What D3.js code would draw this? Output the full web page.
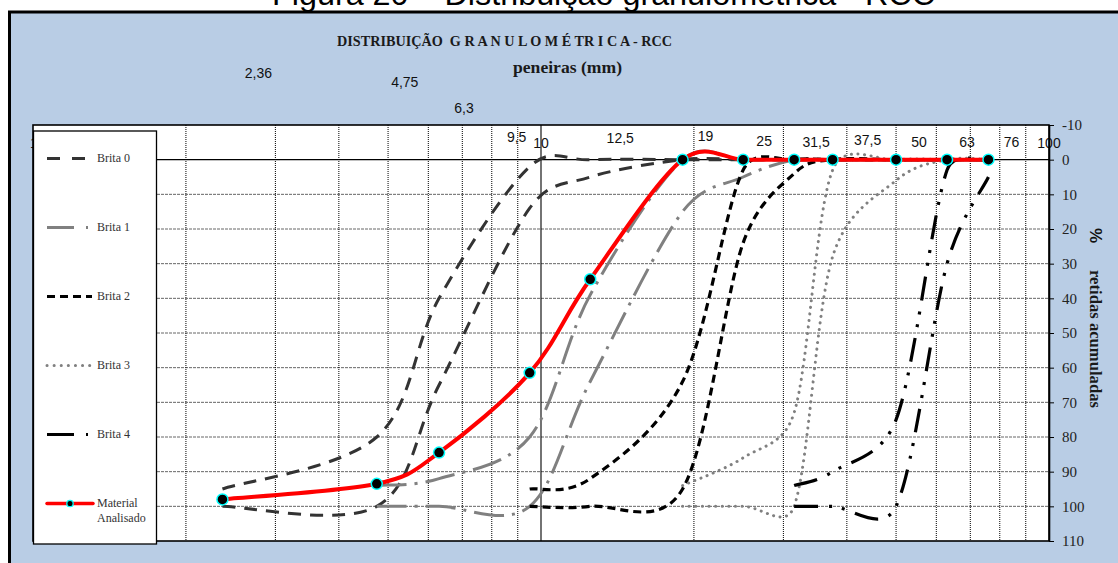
<!DOCTYPE html>
<html>
<head>
<meta charset="utf-8">
<script src="https://cdn.jsdelivr.net/npm/d3@7"></script>
<style>
  html, body { margin: 0; padding: 0; background: #fff; }
  svg { display: block; }
  text { white-space: pre; }
</style>
</head>
<body>
<svg id="chart" width="1118" height="563"></svg>
<script>
// ---------------- DATA ----------------
const sieves = [2.36, 4.75, 6.3, 9.5, 12.5, 19, 25, 31.5, 37.5, 50, 63, 76];

const brita0Sup = [95, 80, 40, 2, 0, 0, 0, 0, 0, 0, 0, 0];
const brita0Inf = [100, 100, 65, 14, 5, 0, 0, 0, 0, 0, 0, 0];
const brita1Sup = [null, 94, 92, 80, 39, 0, 0, 0, 0, 0, 0, 0];
const brita1Inf = [null, 100, 100, 100, 64, 15, 5, 0, 0, 0, 0, 0];
const brita2Sup = [null, null, null, 95, 92, 64, 3, 0, 0, 0, 0, 0];
const brita2Inf = [null, null, null, 100, 100, 95, 24, 4, 0, 0, 0, 0];
const brita3Sup = [null, null, null, null, null, 94, 86, 73, 3, 0, 0, 0];
const brita3Inf = [null, null, null, null, null, 100, 100, 100, 28, 6, 0, 0];
const brita4Sup = [null, null, null, null, null, null, null, 94, 90, 75, 3, 0];
const brita4Inf = [null, null, null, null, null, null, null, 100, 100, 100, 30, 5];
const material  = [98, 93.5, 84.5, 61.5, 34.5, 0, 0, 0, 0, 0, 0, 0];

const sieveLabelValues = [1, 2.36, 4.75, 6.3, 9.5, 10, 12.5, 19, 25, 31.5, 37.5, 50, 63, 76, 100];
const sieveLabelTexts  = ["1", "2,36", "4,75", "6,3", "9,5", "10", "12,5", "19", "25", "31,5", "37,5", "50", "63", "76", "100"];

const yTicks = [-10, 0, 10, 20, 30, 40, 50, 60, 70, 80, 90, 100, 110];
const xGridMinor = [2, 3, 4, 5, 6, 7, 8, 9, 20, 30, 40, 50, 60, 70, 80, 90];
const xGridMajor = [10];

const legendNames = ["Brita 0", "Brita 1", "Brita 2", "Brita 3", "Brita 4", "Material\nAnalisado"];

const titleText = "Figura 20 \u2013 Distribuição granulométrica - RCC";
const chartTitleText = "DISTRIBUIÇÃO  G R A N U L O M É TR I C A - RCC";
const xTitleText = "peneiras (mm)";
const yTitlePct = "%";
const yTitleText = "retidas acumuladas";

// ---------------- LAYOUT / STYLE ----------------
const plot = { x0: 33, x1: 1049, y0: 125, y1: 541 };
// offsets of the free-floating sieve labels (dx from sieve position, baseline y)
const sieveLabelLayout = [
  { dx: 1, y: 148 }, { dx: 36, y: 78 }, { dx: 28, y: 87 }, { dx: 25, y: 113 },
  { dx: -13, y: 142 }, { dx: 0, y: 148 }, { dx: 30, y: 143 }, { dx: 23, y: 141 },
  { dx: 21, y: 146 }, { dx: 22, y: 147 }, { dx: 35, y: 145 }, { dx: 23, y: 147 },
  { dx: 20, y: 147 }, { dx: 23, y: 147 }, { dx: 0, y: 148 }
];

const styles = [
  { color: "#333333", width: 3,   dash: "13,9",              cap: "butt",  legDash: "13,12" },
  { color: "#808080", width: 3,   dash: "30,8,3,8",          cap: "butt",  legDash: "27,12,2,12" },
  { color: "#000000", width: 3.2, dash: "8,5",               cap: "butt",  legDash: "8,5" },
  { color: "#808080", width: 3,   dash: "0.1,6.5",           cap: "round", legDash: "0.1,7" },
  { color: "#000000", width: 3.2, dash: "24,11,3,10,3,11",   cap: "butt",  legDash: "27,12,2,12" }
];

const serif = "'Liberation Serif', 'Times New Roman', serif";
const sans = "'Liberation Sans', Arial, sans-serif";

// ---------------- SCALES ----------------
const x = d3.scaleLog().domain([1, 100]).range([plot.x0, plot.x1]);
const y = d3.scaleLinear().domain([-10, 110]).range([plot.y0, plot.y1]);

// Excel-like smoothed line (cubic Bezier, tangent (P[i+1]-P[i-1])/6 clipped to half segment)
function ExcelSmooth(context) { this._context = context; }
ExcelSmooth.prototype = {
  areaStart() {}, areaEnd() {},
  lineStart() { this._pts = []; },
  point(px, py) { this._pts.push([+px, +py]); },
  lineEnd() {
    const p = this._pts, c = this._context, n = p.length;
    if (!n) return;
    c.moveTo(p[0][0], p[0][1]);
    const dist = (a, b) => Math.hypot(a[0] - b[0], a[1] - b[1]);
    for (let i = 0; i < n - 1; i++) {
      const p0 = p[Math.max(i - 1, 0)], p1 = p[i], p2 = p[i + 1], p3 = p[Math.min(i + 2, n - 1)];
      const d12 = dist(p1, p2), d02 = dist(p0, p2), d13 = dist(p1, p3);
      let f1 = 1 / 6, f2 = 1 / 6;
      if (d02 * f1 > d12 / 2) f1 = d12 / 2 / d02;
      if (d13 * f2 > d12 / 2) f2 = d12 / 2 / d13;
      c.bezierCurveTo(
        p1[0] + (p2[0] - p0[0]) * f1, p1[1] + (p2[1] - p0[1]) * f1,
        p2[0] - (p3[0] - p1[0]) * f2, p2[1] - (p3[1] - p1[1]) * f2,
        p2[0], p2[1]);
    }
  }
};
const curveExcel = ctx => new ExcelSmooth(ctx);

const line = d3.line()
  .defined(d => d[1] != null)
  .x(d => x(d[0]))
  .y(d => y(d[1]))
  .curve(curveExcel);

const pairs = vals => sieves.map((s, i) => [s, vals[i]]);

// ---------------- DRAW ----------------
const svg = d3.select("#chart");

// outer chart area
svg.append("rect")
  .attr("x", 9.5).attr("y", 12).attr("width", 1200).attr("height", 600)
  .attr("fill", "#B9CDE5").attr("stroke", "#000").attr("stroke-width", 3);

// figure caption (partly cut at top, as in the original)
svg.append("text")
  .attr("x", 272).attr("y", 5)
  .attr("font-family", sans).attr("font-size", 32).attr("fill", "#000")
  .attr("textLength", 663).attr("lengthAdjust", "spacingAndGlyphs")
  .text(titleText);

// chart title
svg.append("text")
  .attr("x", 337).attr("y", 46)
  .attr("font-family", serif).attr("font-weight", "bold").attr("font-size", 14).attr("fill", "#1a1a1a")
  .attr("textLength", 335).attr("lengthAdjust", "spacingAndGlyphs")
  .text(chartTitleText);

svg.append("text")
  .attr("x", 513).attr("y", 73)
  .attr("font-family", serif).attr("font-weight", "bold").attr("font-size", 16).attr("fill", "#1a1a1a")
  .attr("textLength", 109).attr("lengthAdjust", "spacingAndGlyphs")
  .text(xTitleText);

// plot area
svg.append("rect")
  .attr("x", plot.x0).attr("y", plot.y0)
  .attr("width", plot.x1 - plot.x0).attr("height", plot.y1 - plot.y0)
  .attr("fill", "#fff");

// sieve labels (drawn before gridlines, so lines cross them as in original)
svg.append("g").selectAll("text")
  .data(sieveLabelTexts)
  .join("text")
  .attr("x", (d, i) => x(sieveLabelValues[i]) + sieveLabelLayout[i].dx)
  .attr("y", (d, i) => sieveLabelLayout[i].y)
  .attr("text-anchor", "middle")
  .attr("font-family", sans).attr("font-size", 14).attr("fill", "#111")
  .text(d => d);

// horizontal gridlines
const gridY = yTicks.filter(v => v > -10 && v < 110);
svg.append("g").selectAll("line")
  .data(gridY)
  .join("line")
  .attr("x1", plot.x0).attr("x2", plot.x1)
  .attr("y1", d => y(d)).attr("y2", d => y(d))
  .attr("stroke", d => d === 0 ? "#000" : "#666")
  .attr("stroke-width", d => d === 0 ? 1.2 : 1)
  .attr("stroke-dasharray", d => d === 0 ? null : "3,1");

// vertical gridlines
svg.append("g").selectAll("line")
  .data(xGridMinor)
  .join("line")
  .attr("x1", d => x(d)).attr("x2", d => x(d))
  .attr("y1", plot.y0).attr("y2", plot.y1)
  .attr("stroke", "#000").attr("stroke-width", 1)
  .attr("stroke-dasharray", "1,1");
svg.append("g").selectAll("line")
  .data(xGridMajor)
  .join("line")
  .attr("x1", d => x(d)).attr("x2", d => x(d))
  .attr("y1", plot.y0).attr("y2", plot.y1)
  .attr("stroke", "#000").attr("stroke-width", 1.1);

// series
const seriesData = [
  [brita0Sup, brita0Inf],
  [brita1Sup, brita1Inf],
  [brita2Sup, brita2Inf],
  [brita3Sup, brita3Inf],
  [brita4Sup, brita4Inf]
];
const gSeries = svg.append("g").attr("fill", "none");
seriesData.forEach((pair, k) => {
  const st = styles[k];
  pair.forEach(vals => {
    gSeries.append("path")
      .attr("d", line(pairs(vals)))
      .attr("stroke", st.color)
      .attr("stroke-width", st.width)
      .attr("stroke-dasharray", st.dash)
      .attr("stroke-linecap", st.cap);
  });
});

// material analysed
svg.append("path")
  .attr("d", line(pairs(material)))
  .attr("fill", "none").attr("stroke", "#FF0000").attr("stroke-width", 4);
svg.append("g").selectAll("circle")
  .data(pairs(material))
  .join("circle")
  .attr("cx", d => x(d[0])).attr("cy", d => y(d[1]))
  .attr("r", 5.5)
  .attr("fill", "#000").attr("stroke", "#00FFFF").attr("stroke-width", 1.5);

// plot border
svg.append("rect")
  .attr("x", plot.x0).attr("y", plot.y0)
  .attr("width", plot.x1 - plot.x0).attr("height", plot.y1 - plot.y0)
  .attr("fill", "none").attr("stroke", "#000").attr("stroke-width", 1.6);

// right axis
const yAxis = d3.axisRight(y).tickValues(yTicks).tickSize(5).tickSizeOuter(0).tickPadding(8)
  .tickFormat(d => String(d));
const gAxis = svg.append("g").attr("transform", `translate(${plot.x1},0)`).call(yAxis);
gAxis.select(".domain").attr("stroke", "#000").attr("stroke-width", 1.6);
gAxis.selectAll(".tick line").attr("stroke", "#000").attr("stroke-width", 1);
gAxis.selectAll(".tick text")
  .attr("font-family", serif).attr("font-size", 15).attr("fill", "#222");

// axis title
svg.append("text")
  .attr("transform", "translate(1090,235.5) rotate(90)")
  .attr("text-anchor", "middle")
  .attr("font-family", sans).attr("font-weight", "bold").attr("font-size", 17).attr("fill", "#111")
  .text(yTitlePct);
svg.append("text")
  .attr("transform", "translate(1089.5,339) rotate(90)")
  .attr("text-anchor", "middle")
  .attr("font-family", serif).attr("font-weight", "bold").attr("font-size", 16).attr("fill", "#1a1a1a")
  .attr("textLength", 138).attr("lengthAdjust", "spacingAndGlyphs")
  .text(yTitleText);

// legend
const leg = { x: 33.5, y: 131, w: 123, h: 413, step: 69, first: 158.5, lx0: 47, lx1: 92, tx: 97 };
const gLeg = svg.append("g");
gLeg.append("rect")
  .attr("x", leg.x).attr("y", leg.y).attr("width", leg.w).attr("height", leg.h)
  .attr("fill", "#fff").attr("stroke", "#000").attr("stroke-width", 1.3);

legendNames.forEach((name, i) => {
  const ly = leg.first + i * leg.step;
  if (i < 5) {
    const st = styles[i];
    gLeg.append("line")
      .attr("x1", leg.lx0).attr("x2", leg.lx1).attr("y1", ly).attr("y2", ly)
      .attr("stroke", st.color).attr("stroke-width", st.width)
      .attr("stroke-dasharray", st.legDash).attr("stroke-linecap", st.cap);
  } else {
    gLeg.append("line")
      .attr("x1", leg.lx0).attr("x2", leg.lx1 + 1).attr("y1", ly).attr("y2", ly)
      .attr("stroke", "#FF0000").attr("stroke-width", 3.5).attr("stroke-linecap", "round");
    gLeg.append("circle")
      .attr("cx", (leg.lx0 + leg.lx1 + 1) / 2).attr("cy", ly).attr("r", 3.2)
      .attr("fill", "#000").attr("stroke", "#00FFFF").attr("stroke-width", 1.3);
  }
  const parts = name.split("\n");
  const t = gLeg.append("text")
    .attr("font-family", serif).attr("font-size", 12).attr("fill", "#333");
  parts.forEach((p, j) => {
    t.append("tspan").attr("x", leg.tx).attr("y", ly + 3.5 + j * 15).text(p);
  });
});
</script>
</body>
</html>
